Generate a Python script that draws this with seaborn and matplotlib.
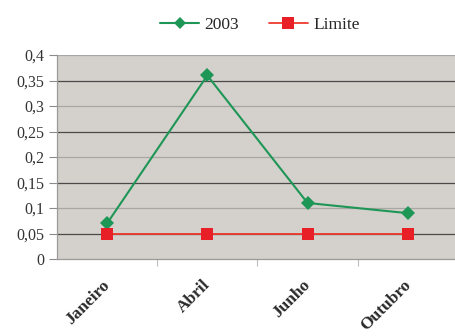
import matplotlib
matplotlib.use("Agg")
import matplotlib.pyplot as plt
import matplotlib.transforms as mtransforms
import seaborn as sns
import pandas as pd
from matplotlib.ticker import FuncFormatter, FixedLocator

months = ["Janeiro", "Abril", "Junho", "Outubro"]
values_2003 = [0.07, 0.36, 0.11, 0.09]
values_limite = [0.05, 0.05, 0.05, 0.05]
series_names = ["2003", "Limite"]
y_ticks = [0, 0.05, 0.1, 0.15, 0.2, 0.25, 0.3, 0.35, 0.4]

sns.set_theme(style="white")
plt.rcParams["font.family"] = ["Liberation Serif", "DejaVu Serif"]

df = pd.DataFrame({
    "mes": months * 2,
    "pos": list(range(len(months))) * 2,
    "valor": values_2003 + values_limite,
    "serie": [series_names[0]] * len(months) + [series_names[1]] * len(months),
})

fig = plt.figure(figsize=(4.56, 3.36), dpi=100)
ax = fig.add_axes([0.125, 0.229, 0.879, 0.607])
ax.set_facecolor("#d4d0cc")

# gridlines alternate between darker and lighter shades
for i, t in enumerate(y_ticks[1:], start=1):
    col = "#4a4a4a" if i % 2 == 1 else "#a9a6a3"
    ax.axhline(t, color=col, lw=0.9, zorder=1)

palette = {"2003": "#1e9656", "Limite": "#ea2027"}
markers = {"2003": "D", "Limite": "s"}
sns.lineplot(data=df, x="pos", y="valor", hue="serie", style="serie",
             palette=palette, markers=markers, dashes=False,
             markersize=7, linewidth=1.5, markeredgewidth=0,
             ax=ax, zorder=3, legend=False)
for line, name in zip(ax.lines[-2:], series_names):
    if name == "Limite":
        line.set_markersize(8)
        line.set_linewidth(1.3)
        line.set_color("#ee3a2e")
        line.set_markerfacecolor("#e81f27")

ax.set_xlim(-0.5, 3.5)
ax.set_ylim(0, 0.4)
ax.yaxis.set_major_locator(FixedLocator(y_ticks))
ax.yaxis.set_major_formatter(FuncFormatter(lambda v, p: ("%g" % round(v, 2)).replace(".", ",")))
ax.set_xticks(range(len(months)))
ax.set_xticklabels(months, rotation=45, ha="right", rotation_mode="anchor",
                   fontweight="bold", fontsize=12.5)
ax.tick_params(axis="x", length=0, pad=13)
shift = mtransforms.ScaledTranslation(-5 / 100, 0, fig.dpi_scale_trans)
for lbl in ax.get_xticklabels():
    lbl.set_transform(lbl.get_transform() + shift)
ax.set_xticks([0.5, 1.5, 2.5], minor=True)
ax.tick_params(axis="x", which="minor", length=5, color="#bdbdbd", width=0.8, bottom=True)
ax.tick_params(axis="y", length=6, color="#8c8c8c", width=0.8, labelsize=11.5, pad=3, left=True)
for lbl in ax.get_yticklabels():
    lbl.set_color("#333333")
for lbl in ax.get_xticklabels():
    lbl.set_color("#2a2a2a")

ax.set_xlabel("")
ax.set_ylabel("")
for side in ["top", "right"]:
    ax.spines[side].set_visible(False)
ax.spines["left"].set_color("#9a9a9a")
ax.spines["bottom"].set_color("#9a9a9a")
ax.spines["left"].set_linewidth(0.9)
ax.spines["bottom"].set_linewidth(0.9)

handles = [
    plt.Line2D([], [], color=palette["2003"], marker="D", markersize=6, lw=1.5, markeredgewidth=0),
    plt.Line2D([], [], color="#ee3a2e", marker="s", markersize=9, lw=1.3,
               markerfacecolor="#e81f27", markeredgewidth=0),
]
fig.legend(handles, series_names, loc="center", bbox_to_anchor=(0.57, 0.925), ncol=2,
           frameon=False, fontsize=12.5, handlelength=2.25, columnspacing=1.7, handletextpad=0.3)

fig.savefig("out.png", dpi=100)
